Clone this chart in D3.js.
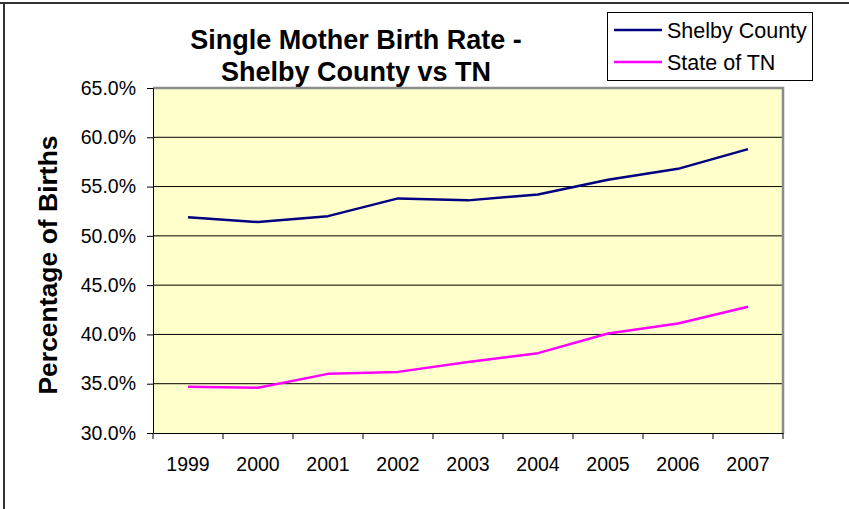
<!DOCTYPE html>
<html><head><meta charset="utf-8">
<script src="https://cdn.jsdelivr.net/npm/d3@7"></script>
<style>body{margin:0;background:#fff;} svg{display:block;font-family:Arial,"Liberation Sans",sans-serif;}</style>
</head><body>
<svg id="c" width="849" height="509"></svg>
<script>
const years = ["1999","2000","2001","2002","2003","2004","2005","2006","2007"];
const shelby = [51.9,51.4,52.0,53.8,53.6,54.2,55.7,56.8,58.8];
const tn = [34.7,34.6,36.0,36.2,37.2,38.1,40.1,41.1,42.8];
const yTicks = [30,35,40,45,50,55,60,65];
const seriesNames = ["Shelby County","State of TN"];
const seriesColors = ["#000080","#FF00FF"];

const FONT = "Arial,'Liberation Sans',sans-serif";
const svg = d3.select("#c");
const L=153,R=783,T=88,B=433;
const x = d3.scaleBand().domain(years).range([L,R]);
const y = d3.scaleLinear().domain([30,65]).range([B,T]);

// outer frame
svg.append("line").attr("x1",0).attr("x2",849).attr("y1",3).attr("y2",3).attr("stroke","#333").attr("stroke-width",2);
svg.append("line").attr("x1",4).attr("x2",4).attr("y1",2).attr("y2",509).attr("stroke","#333").attr("stroke-width",2);

// plot bg
svg.append("rect").attr("x",L).attr("y",T).attr("width",R-L).attr("height",B-T).attr("fill","#FFFFCC");
// grid
svg.append("g").selectAll("line").data(yTicks.filter(d=>d>30&&d<65)).join("line")
  .attr("x1",L).attr("x2",R).attr("y1",d=>y(d)).attr("y2",d=>y(d)).attr("stroke","#000").attr("stroke-width",1);
// top & right border gray
svg.append("path").attr("d",`M${L},${T}H${R}V${B}`).attr("fill","none").attr("stroke","#8c8c8c").attr("stroke-width",2.5);

// y axis
const ya = d3.axisLeft(y).tickValues(yTicks).tickSize(6).tickPadding(11).tickFormat(d=>d.toFixed(1)+"%");
const gy = svg.append("g").attr("transform",`translate(${L},0)`).call(ya);
gy.attr("font-size",19.5).attr("font-family",FONT);
gy.select(".domain").attr("stroke","#000");
gy.selectAll("text").attr("fill","#000");

// x axis
const xa = d3.axisBottom(x).tickSize(0).tickPadding(24);
const gx = svg.append("g").attr("transform",`translate(0,${B})`).call(xa);
gx.attr("font-size",19.5).attr("font-family",FONT);
gx.select(".domain").attr("stroke","#000");
gx.selectAll("text").attr("fill","#000");
const bounds = years.map(d=>x(d)).concat([R]);
svg.append("g").selectAll("line").data(bounds).join("line")
  .attr("x1",d=>d).attr("x2",d=>d).attr("y1",B).attr("y2",B+6).attr("stroke","#000");

// lines
const line = d3.line().x((d,i)=>x(years[i])+x.bandwidth()/2).y(d=>y(d));
[shelby,tn].forEach((s,i)=>{
  svg.append("path").attr("d",line(s)).attr("fill","none").attr("stroke",seriesColors[i]).attr("stroke-width",2.5).attr("stroke-linejoin","round");
});

// title
const title = svg.append("text").attr("text-anchor","middle").attr("font-size",27).attr("font-weight","bold");
title.append("tspan").attr("x",356).attr("y",49).text("Single Mother Birth Rate -");
title.append("tspan").attr("x",356).attr("y",81).text("Shelby County vs TN");

// y label
svg.append("text").attr("transform","translate(57,265) rotate(-90)").attr("text-anchor","middle")
  .attr("font-size",26.5).attr("font-weight","bold").text("Percentage of Births");

// legend
const lg = svg.append("g");
lg.append("rect").attr("x",607.5).attr("y",12.5).attr("width",205).attr("height",68).attr("fill","#fff").attr("stroke","#000");
seriesNames.forEach((n,i)=>{
  const yy = 30+i*32;
  lg.append("line").attr("x1",614).attr("x2",662).attr("y1",yy).attr("y2",yy).attr("stroke",seriesColors[i]).attr("stroke-width",2.5);
  lg.append("text").attr("x",667).attr("y",yy+7.5).attr("font-size",21.5).text(n);
});
</script>
</body></html>
